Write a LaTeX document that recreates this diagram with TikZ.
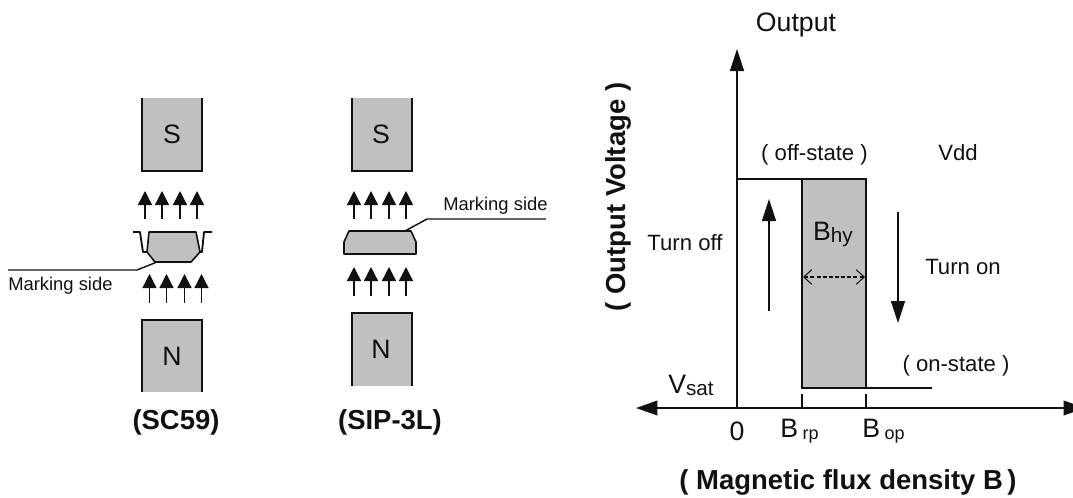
\documentclass[tikz,border=0pt]{standalone}
\usepackage{fontspec}
\setmainfont{Liberation Sans}
\usetikzlibrary{arrows.meta}
\definecolor{fillgray}{HTML}{C0C0C0}
\definecolor{inkdark}{HTML}{111111}
\tikzset{
  x=0.75pt,y=-0.75pt,
  magnetfill/.style={fill=fillgray,draw=none},
  magnetline/.style={draw=inkdark,line width=1.2pt},
  body/.style={draw=inkdark,line width=1.2pt,fill=fillgray,line join=round},
  fieldarrow/.style={draw=inkdark,line width=1pt,-{Triangle[length=10.5pt,width=10.5pt]}},
  bigarrow/.style={draw=inkdark,line width=1pt,-{Triangle[length=16.5pt,width=10.5pt]}},
  axisarrow/.style={draw=inkdark,line width=1.1pt,{Triangle[length=16pt,width=11pt]}-{Triangle[length=16pt,width=11pt]}},
  curve/.style={draw=inkdark,line width=2pt},
  thinl/.style={draw=inkdark,line width=1.1pt},
  leadl/.style={draw=inkdark,line width=1.4pt,line join=round},
  txt/.style={inner sep=0pt,text=inkdark,font=\fontsize{16.6}{18}\selectfont},
  bigtxt/.style={inner sep=0pt,text=inkdark,font=\fontsize{20}{22}\selectfont},
  smalltxt/.style={inner sep=0pt,text=inkdark,font=\fontsize{13.8}{15}\selectfont},
  boldtxt/.style={inner sep=0pt,text=inkdark,font=\fontsize{20.6}{22}\bfseries\selectfont},
}
\newcommand{\fieldrow}[3]{%
  \foreach \dx in {0,17,35,52}{
    \coordinate (fa) at (#1+\dx,#3);
    \coordinate (fb) at (#1+\dx,#2);
    \draw[fieldarrow] (fa) -- (fb);
  }}
\newcommand{\subtxt}[1]{\raisebox{-1.5pt}{\fontsize{15.5}{16}\selectfont #1}}
\newcommand{\subsmall}[1]{\raisebox{-1.5pt}{\fontsize{13.5}{14}\selectfont #1}}
\begin{document}
\begin{tikzpicture}
\useasboundingbox (0,0) rectangle (1073,497);
\clip (0,0) rectangle (1073,497);
% magnets: open on their far side
\fill[magnetfill] (142,98) rectangle (202,171);
\draw[magnetline] (142,98) -- (142,171) -- (202,171) -- (202,98);
\node[bigtxt] (s1) at (172,134) {S};
\fill[magnetfill] (142,320) rectangle (202,392);
\draw[magnetline] (142,392) -- (142,320) -- (202,320) -- (202,392);
\node[bigtxt] (n1) at (172,356) {N};
\fill[magnetfill] (352,98) rectangle (412,171);
\draw[magnetline] (352,98) -- (352,171) -- (412,171) -- (412,98);
\node[bigtxt] (s2) at (381,134) {S};
\fill[magnetfill] (352,313) rectangle (412,386);
\draw[magnetline] (352,386) -- (352,313) -- (412,313) -- (412,386);
\node[bigtxt] (n2) at (381,349) {N};
% SC59 column
\fieldrow{145}{191}{219}
\fieldrow{149.5}{274}{303}
\draw[leadl] (133,232) -- (140,232) -- (143,252) -- (150,252);
\draw[leadl] (212,232) -- (204,232) -- (202,252) -- (196,252);
\draw[body] (149,232) -- (196,232) -- (200,252) -- (191,262) -- (155,262) -- (147,252) -- cycle;
\coordinate (ma) at (8,270);
\coordinate (mb) at (137,270);
\coordinate (mc) at (157,262);
\draw[thinl] (ma) -- (mb) -- (mc);
\node[smalltxt,anchor=west] (ms1) at (8,286) {Marking side};
\node[boldtxt] (sc) at (176,422) {(SC59)};
% SIP column
\fieldrow{354}{191}{219}
\fieldrow{354}{267}{296}
\draw[body] (349,231) -- (411,231) -- (416,242) -- (416,254) -- (344,254) -- (344,242) -- cycle;
\coordinate (mp) at (405,231);
\coordinate (mq) at (427,219);
\coordinate (mr) at (546,219);
\draw[thinl] (mp) -- (mq) -- (mr);
\node[smalltxt,anchor=west] (ms2) at (443,206) {Marking side};
\node[boldtxt] (sip) at (390,422) {(SIP-3L)};
% Chart
\fill[fillgray] (802,179) rectangle (866,388);
\coordinate (o) at (737,408);
\coordinate (yt) at (737,49);
\coordinate (xl) at (636,408);
\coordinate (xr) at (1085,408);
\draw[bigarrow] (o) -- (yt);
\draw[axisarrow] (xl) -- (xr);
\coordinate (c1) at (737,179);
\coordinate (c2) at (866,179);
\coordinate (c3) at (866,388);
\coordinate (c4) at (932,388);
\coordinate (c5) at (802,388);
\coordinate (c6) at (802,179);
\draw[curve] (c1) -- (c2) -- (c3) -- (c4);
\draw[curve] (c6) -- (c5) -- (c3);
\coordinate (t1a) at (802,394);
\coordinate (t1b) at (802,408);
\coordinate (t2a) at (866,394);
\coordinate (t2b) at (866,408);
\draw[thinl] (t1a) -- (t1b);
\draw[thinl] (t2a) -- (t2b);
\coordinate (ua) at (769,311);
\coordinate (ub) at (769,199);
\coordinate (da) at (898,212);
\coordinate (db) at (898,323);
\draw[bigarrow] (ua) -- (ub);
\draw[bigarrow] (da) -- (db);
\coordinate (ha) at (803,277);
\coordinate (hb) at (865,277);
\draw[draw=inkdark,line width=0.8pt,dash pattern=on 3pt off 1.6pt,{Straight Barb[length=6pt,width=11pt]}-{Straight Barb[length=6pt,width=11pt]}] (ha) -- (hb);
\node[bigtxt] (out) at (796,25) {Output};
\node[boldtxt,rotate=90] (ov) at (618,197) {( Output Voltage )};
\node[txt] (off) at (814.5,155) {( off-state )};
\node[txt] (vdd) at (958,153) {Vdd};
\node[txt] (toff) at (685,243) {Turn off};
\node[txt] (ton) at (963,267) {Turn on};
\node[bigtxt] (bhy) at (833,234) {B\subtxt{hy}};
\node[txt] (on) at (956,366) {( on-state )};
\node[bigtxt] (vsat) at (691,385) {V\subtxt{sat}};
\node[bigtxt] (zero) at (737,431) {0};
\node[bigtxt,anchor=west] (brp) at (780,431) {B\,\subsmall{rp}};
\node[bigtxt,anchor=west] (bop) at (862,431) {B\,\subsmall{op}};
\node[boldtxt] (mfd) at (848,482) {( Magnetic flux density B\,)};
\end{tikzpicture}
\end{document}
